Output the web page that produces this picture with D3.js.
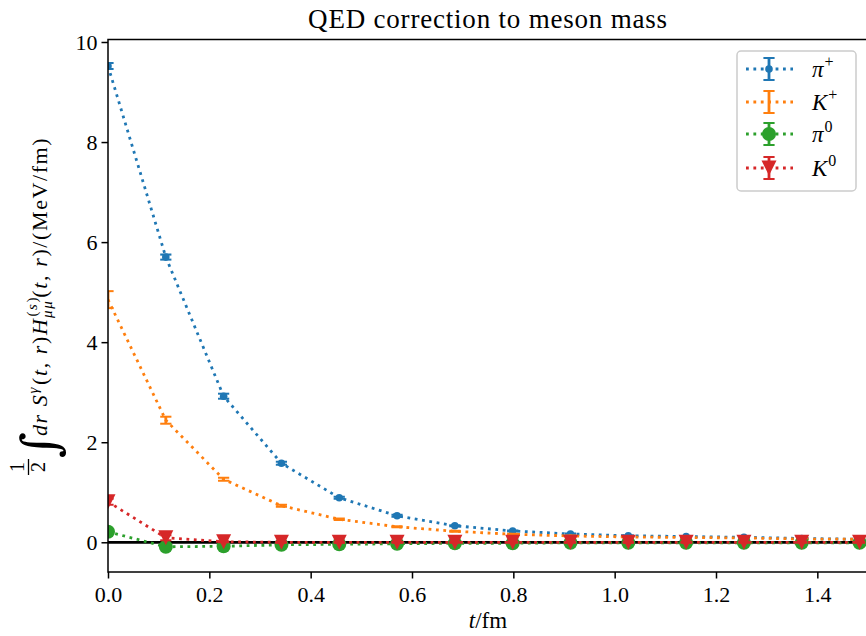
<!DOCTYPE html>
<html>
<head>
<meta charset="utf-8">
<script src="https://cdn.jsdelivr.net/npm/d3@7"></script>
<style>
  html, body { margin: 0; padding: 0; background: #fff; }
  svg { display: block; }
  text { font-family: "Liberation Serif", "DejaVu Serif", serif; fill: #000; }
</style>
</head>
<body>
<script>
// ---- data ----
const tValues = [0, 0.1141, 0.2282, 0.3423, 0.4564, 0.5705, 0.6846, 0.7987, 0.9128, 1.0269, 1.141, 1.2551, 1.3692, 1.4833];
const piPlus     = [9.52, 5.70, 2.92, 1.58, 0.89, 0.53, 0.33, 0.226, 0.166, 0.13, 0.115, 0.10, 0.076, 0.06];
const piPlusErr  = [0.06, 0.05, 0.05, 0.03, 0.02, 0.02, 0.01, 0.01, 0.01, 0.01, 0.01, 0.01, 0.01, 0.01];
const kPlus      = [4.85, 2.44, 1.26, 0.73, 0.46, 0.31, 0.22, 0.16, 0.126, 0.106, 0.096, 0.086, 0.066, 0.06];
const kPlusErr   = [0.17, 0.07, 0.03, 0.02, 0.015, 0.01, 0.01, 0.01, 0.01, 0.01, 0.01, 0.01, 0.01, 0.01];
const piZero     = [0.21, -0.09, -0.08, -0.05, -0.04, -0.03, -0.02, -0.02, -0.01, -0.01, -0.01, -0.01, -0.01, -0.01];
const piZeroErr  = [0.03, 0.02, 0.02, 0.01, 0.01, 0.01, 0.01, 0.01, 0.01, 0.01, 0.01, 0.01, 0.01, 0.01];
const kZero      = [0.81, 0.09, 0.01, 0.0, 0.0, 0.0, 0.0, 0.0, 0.0, 0.0, 0.0, 0.0, 0.0, 0.0];
const kZeroErr   = [0.06, 0.05, 0.01, 0.01, 0.01, 0.01, 0.01, 0.01, 0.01, 0.01, 0.01, 0.01, 0.01, 0.01];
const xTicks = [0.0, 0.2, 0.4, 0.6, 0.8, 1.0, 1.2, 1.4];
const yTicks = [0, 2, 4, 6, 8, 10];
const seriesNames = ["π+", "K+", "π0", "K0"];

const series = [
  {sym: "π", sup: "+", vals: piPlus, errs: piPlusErr, color: "#1f77b4", marker: "smallcircle"},
  {sym: "K", sup: "+", vals: kPlus, errs: kPlusErr, color: "#ff7f0e", marker: "none"},
  {sym: "π", sup: "0", vals: piZero, errs: piZeroErr, color: "#2ca02c", marker: "bigcircle"},
  {sym: "K", sup: "0", vals: kZero, errs: kZeroErr, color: "#d62728", marker: "triangle"}
];

// ---- layout ----
const W = 866, H = 636;
const L = 108, R = 868, T = 39.5, B = 572;
const svg = d3.select("body").append("svg").attr("width", W).attr("height", H);

const x = d3.scaleLinear().domain([0, 1.5]).range([L, R]);
const y = d3.scaleLinear().domain([-0.594, 10.05]).range([B, T]);

const clipId = "plotclip";
svg.append("defs").append("clipPath").attr("id", clipId)
  .append("rect").attr("x", L).attr("y", T).attr("width", R - L).attr("height", B - T);

const plot = svg.append("g").attr("clip-path", `url(#${clipId})`);

// horizontal zero line
plot.append("line")
  .attr("x1", L).attr("x2", R).attr("y1", y(0)).attr("y2", y(0))
  .attr("stroke", "#000").attr("stroke-width", 2.8);

const capHalf = 5.6;
const lw = 2.8;

function drawMarker(g, kind, cx, cy, color) {
  if (kind === "smallcircle") {
    g.append("circle").attr("cx", cx).attr("cy", cy).attr("r", 3.8).attr("fill", color);
  } else if (kind === "bigcircle") {
    g.append("circle").attr("cx", cx).attr("cy", cy).attr("r", 7).attr("fill", color);
  } else if (kind === "triangle") {
    const s = 7.5;
    g.append("path")
      .attr("d", `M${cx - s},${cy - s}L${cx + s},${cy - s}L${cx},${cy + s}Z`)
      .attr("fill", color);
  }
}

const line = d3.line().x((d, i) => x(tValues[i])).y(d => y(d));

series.forEach(s => {
  const g = plot.append("g");
  g.append("path").datum(s.vals)
    .attr("d", line)
    .attr("fill", "none").attr("stroke", s.color)
    .attr("stroke-width", lw).attr("stroke-dasharray", "2.8,4.6");
  s.vals.forEach((v, i) => {
    const cx = x(tValues[i]);
    const y1 = y(v - s.errs[i]), y2 = y(v + s.errs[i]);
    g.append("line").attr("x1", cx).attr("x2", cx).attr("y1", y1).attr("y2", y2)
      .attr("stroke", s.color).attr("stroke-width", lw);
    [y1, y2].forEach(yy => g.append("line")
      .attr("x1", cx - capHalf).attr("x2", cx + capHalf).attr("y1", yy).attr("y2", yy)
      .attr("stroke", s.color).attr("stroke-width", 2));
    drawMarker(g, s.marker, cx, y(v), s.color);
  });
});

// ---- axes ----
const xAxis = d3.axisBottom(x).tickValues(xTicks).tickFormat(d3.format(".1f")).tickSizeOuter(0).tickSize(6.5).tickPadding(5);
const yAxis = d3.axisLeft(y).tickValues(yTicks).tickFormat(d3.format("d")).tickSizeOuter(0).tickSize(6.5).tickPadding(4);

const gx = svg.append("g").attr("transform", `translate(0,${B})`).call(xAxis);
const gy = svg.append("g").attr("transform", `translate(${L},0)`).call(yAxis);
[gx, gy].forEach(g => {
  g.select(".domain").remove();
  g.selectAll(".tick line").attr("stroke", "#000").attr("stroke-width", 1.5);
  g.selectAll(".tick text").style("font-family", '"Liberation Serif", serif').style("font-size", "22px").attr("fill", "#000");
});
gx.selectAll(".tick text").attr("dy", "0.82em");
gy.selectAll(".tick text").attr("dy", "0.35em");

// spines
svg.append("rect").attr("x", L).attr("y", T).attr("width", R - L).attr("height", B - T)
  .attr("fill", "none").attr("stroke", "#000").attr("stroke-width", 1.5);

// ---- title ----
svg.append("text").attr("x", (L + R) / 2).attr("y", 28).attr("text-anchor", "middle")
  .style("font-size", "27px").style("letter-spacing", "0.8px").text("QED correction to meson mass");

// ---- x label ----
const xl = svg.append("text").attr("x", (L + R) / 2).attr("y", 628).attr("text-anchor", "middle")
  .style("font-size", "23px");
xl.append("tspan").style("font-style", "italic").text("t");
xl.append("tspan").text("/fm");

// ---- y label ----
const yl = svg.append("g").attr("transform", "translate(0,306) rotate(-90)");
// fraction 1/2
yl.append("text").attr("x", -161).attr("y", 24).attr("text-anchor", "middle").style("font-size", "20px").text("1");
yl.append("line").attr("x1", -169).attr("x2", -153).attr("y1", 28.5).attr("y2", 28.5).attr("stroke", "#000").attr("stroke-width", 1.3);
yl.append("text").attr("x", -161).attr("y", 45).attr("text-anchor", "middle").style("font-size", "20px").text("2");
// integral sign
yl.append("text").attr("x", -152).attr("y", 57).style("font-family", '"DejaVu Serif", serif')
  .style("font-size", "50px").style("font-weight", "300").text("∫");
// main expression
const ye = yl.append("text").attr("x", -130).attr("y", 47).style("font-size", "22px").style("letter-spacing", "1.6px");
const it = (s) => ye.append("tspan").style("font-style", "italic").text(s);
const rm = (s) => ye.append("tspan").text(s);
it("dr"); it(" S");
ye.append("tspan").attr("dy", -9).style("font-size", "15px").style("font-style", "italic").text("γ");
ye.append("tspan").attr("dy", 9).attr("dx", 1).text("(");
it("t"); rm(", "); it("r"); rm(")");
it("H");
ye.append("tspan").attr("dy", -10).attr("dx", 1).style("font-size", "15px").text("(");
ye.append("tspan").style("font-size", "15px").style("font-style", "italic").text("s");
ye.append("tspan").style("font-size", "15px").text(")");
ye.append("tspan").attr("dy", 15).attr("dx", -22).style("font-size", "15px").style("font-style", "italic").text("μμ");
ye.append("tspan").attr("dy", -5).attr("dx", 2).text("(");
it("t"); rm(", "); it("r"); rm(")/(MeV/fm)");

// ---- legend ----
const lg = svg.append("g");
lg.append("rect").attr("x", 737).attr("y", 51).attr("width", 119).attr("height", 140)
  .attr("rx", 4).attr("fill", "#fff").attr("fill-opacity", 0.8)
  .attr("stroke", "#cccccc").attr("stroke-width", 1.5);
const legY = [69, 102, 134, 168];
series.forEach((s, i) => {
  const cy = legY[i];
  const g = lg.append("g");
  g.append("line").attr("x1", 746).attr("x2", 793).attr("y1", cy).attr("y2", cy)
    .attr("stroke", s.color).attr("stroke-width", lw).attr("stroke-dasharray", "2.8,4.6");
  g.append("line").attr("x1", 769).attr("x2", 769).attr("y1", cy - 11).attr("y2", cy + 11)
    .attr("stroke", s.color).attr("stroke-width", lw);
  [cy - 11, cy + 11].forEach(yy => g.append("line")
    .attr("x1", 769 - capHalf).attr("x2", 769 + capHalf).attr("y1", yy).attr("y2", yy)
    .attr("stroke", s.color).attr("stroke-width", 2));
  drawMarker(g, s.marker, 769, cy, s.color);
  const tx = g.append("text").attr("x", 812).attr("y", cy + 8).style("font-size", "23px");
  tx.append("tspan").style("font-style", "italic").text(s.sym);
  tx.append("tspan").attr("dy", -10).attr("dx", 1).style("font-size", "16px").text(s.sup);
});
</script>
</body>
</html>
